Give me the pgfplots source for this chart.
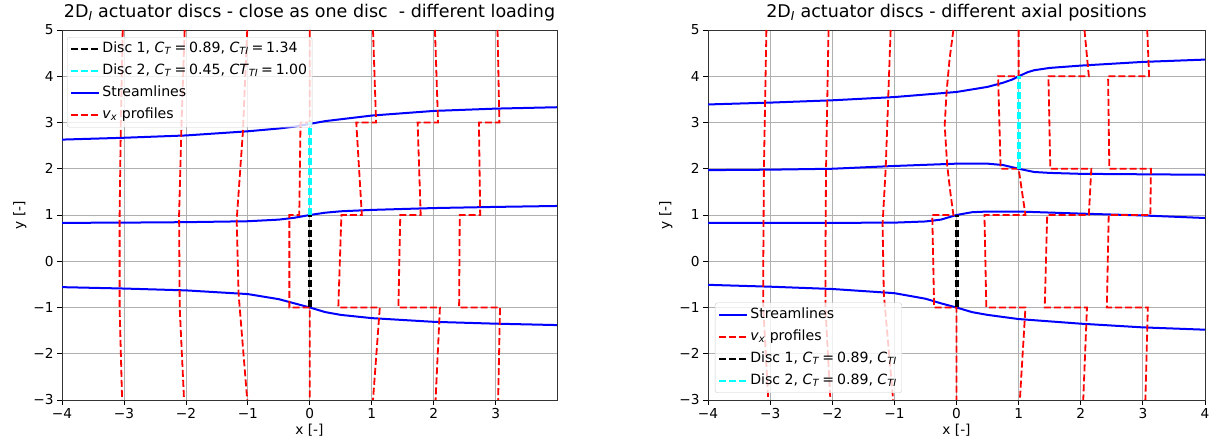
\documentclass[border=0pt]{standalone}
\usepackage{fontspec}
\setmainfont{DejaVu Sans}
\usepackage{pgfplots}
\pgfplotsset{compat=1.18}
\definecolor{mblue}{RGB}{0,0,255}
\definecolor{mred}{RGB}{255,0,0}
\definecolor{mcyan}{RGB}{0,255,255}
\definecolor{mgrid}{RGB}{176,176,176}
\newcommand{\ticksize}{\fontsize{13.7}{16}\selectfont}
\newcommand{\legsize}{\fontsize{14.1}{16.5}\selectfont}
\newcommand{\titlesize}{\fontsize{17.5}{20}\selectfont}
\newcommand{\eqs}{\hspace{0.2em}=\hspace{0.2em}}
\newcommand{\CT}{\textit{C}\textsubscript{\textit{T}}}
\newcommand{\CTI}{\textit{C}\textsubscript{\textit{TI}}}
\newcommand{\vx}{\textit{v}\textsubscript{\textit{x}}}
\pgfplotsset{
  stream/.style={mblue, line width=2pt, forget plot},
  prof/.style={mred, line width=1.8pt, dash pattern=on 7pt off 3pt, forget plot},
  disc1/.style={black, line width=4pt, dash pattern=on 7pt off 3pt, forget plot},
  disc2/.style={mcyan, line width=4pt, dash pattern=on 7pt off 3pt, forget plot},
  streamleg/.style={mblue, line width=2pt},
  profleg/.style={mred, line width=1.8pt, dash pattern=on 7pt off 3pt},
  disc1leg/.style={black, line width=2.2pt, dash pattern=on 7pt off 3pt},
  disc2leg/.style={mcyan, line width=2.2pt, dash pattern=on 7pt off 3pt},
  myaxis/.style={
    scale only axis, height=370pt, ymin=-3, ymax=5,
    grid=major, grid style={color=mgrid, line width=0.8pt},
    axis line style={black!80, line width=0.9pt},
    tick align=outside, major tick length=5pt,
    tick style={black, line width=0.8pt},
    xtick pos=left, ytick pos=left,
    ytick={-3,-2,-1,0,1,2,3,4,5},
    yticklabels={−3,−2,−1,0,1,2,3,4,5},
    tick label style={font=\ticksize},
    label style={font=\ticksize},
    xlabel={x [-]}, ylabel={y [-]},
    xlabel style={yshift=2pt},
    title style={font=\titlesize, yshift=-1pt},
    legend cell align=left,
    legend image code/.code={\draw[##1] (0pt,0pt) -- (28pt,0pt);},
    legend style={draw=black!20, rounded corners=2.5pt, fill=white, fill opacity=0.8, text opacity=1,
      font=\legsize, inner xsep=3pt, inner ysep=3pt, row sep=4pt,
      nodes={text height=10.5pt, text depth=3.5pt}},
  },
}
\begin{document}
\begin{tikzpicture}
\path[use as bounding box] (0pt,0pt) rectangle (1211pt,446pt);
% ---------------- left ----------------
\begin{axis}[myaxis, at={(62pt,46pt)}, anchor=south west, width=495pt,
  xmin=-4, xmax=3.99, xtick={-4,-3,-2,-1,0,1,2,3},
  xticklabels={−4,−3,−2,−1,0,1,2,3},
  title={2D\textsubscript{\textit{I}} actuator discs - close as one disc\ \ - different loading},
  legend style={at={(0.0101,0.981)}, anchor=north west}]
\addlegendimage{disc1leg}\addlegendentry{Disc 1, \CT\eqs0.89, \CTI\eqs1.34}
\addlegendimage{disc2leg}\addlegendentry{Disc 2, \CT\eqs0.45, \textit{CT}\textsubscript{\textit{TI}}\eqs1.00}
\addlegendimage{streamleg}\addlegendentry{Streamlines}
\addlegendimage{profleg}\addlegendentry{\vx{} profiles}
% streamlines
\addplot[stream] coordinates {(-4,2.63) (-3,2.67) (-2,2.72) (-1,2.81) (-0.5,2.87) (-0.25,2.91) (0,2.97) (0.25,3.03) (0.5,3.07) (1,3.15) (2,3.25) (3,3.30) (3.99,3.33)};
\addplot[stream] coordinates {(-4,0.83) (-3,0.835) (-2,0.845) (-1,0.865) (-0.5,0.9) (-0.25,0.94) (0,1.0) (0.25,1.05) (0.5,1.08) (1,1.11) (2,1.15) (3,1.175) (3.99,1.195)};
\addplot[stream] coordinates {(-4,-0.56) (-3,-0.59) (-2,-0.63) (-1,-0.71) (-0.5,-0.82) (-0.25,-0.91) (0,-1.0) (0.25,-1.1) (0.5,-1.16) (1,-1.23) (2,-1.31) (3,-1.35) (3.99,-1.38)};
% vx profiles
\addplot[prof] coordinates {(-3.02,5) (-3.05,3) (-3.07,1) (-3.07,-1) (-3.03,-3)};
\addplot[prof] coordinates {(-2.02,5) (-2.07,3) (-2.11,1) (-2.10,-1) (-2.03,-3)};
\addplot[prof] coordinates {(-1.01,5) (-1.08,2.8) (-1.18,0.9) (-1.15,-0.7) (-1.01,-3)};
\addplot[prof] coordinates {(0,5) (0,3) (-0.15,3) (-0.17,1) (-0.33,1) (-0.33,-1) (0,-1) (0,-3)};
\addplot[prof] coordinates {(1.02,5) (1.07,3) (0.75,3) (0.84,1) (0.51,1) (0.46,-1) (1.13,-1) (1.02,-3)};
\addplot[prof] coordinates {(2.02,5) (2.07,3) (1.74,3) (1.79,1) (1.46,1) (1.43,-1) (2.10,-1) (2.03,-3)};
\addplot[prof] coordinates {(3.03,5) (3.06,3) (2.73,3) (2.75,1) (2.42,1) (2.41,-1) (3.07,-1) (3.04,-3)};
% discs
\addplot[disc1] coordinates {(0,-1) (0,1)};
\addplot[disc2] coordinates {(0,1) (0,3)};
\end{axis}
% ---------------- right ----------------
\begin{axis}[myaxis, at={(708pt,46pt)}, anchor=south west, width=497pt,
  xmin=-4, xmax=4, xtick={-4,-3,-2,-1,0,1,2,3,4},
  xticklabels={−4,−3,−2,−1,0,1,2,3,4},
  title={2D\textsubscript{\textit{I}} actuator discs - different axial positions},
  legend style={at={(0.014,0.019)}, anchor=south west}]
\addlegendimage{streamleg}\addlegendentry{Streamlines}
\addlegendimage{profleg}\addlegendentry{\vx{} profiles}
\addlegendimage{disc1leg}\addlegendentry{Disc 1, \CT\eqs0.89, \CTI}
\addlegendimage{disc2leg}\addlegendentry{Disc 2, \CT\eqs0.89, \CTI}
% streamlines
\addplot[stream] coordinates {(-4,3.39) (-3,3.43) (-2,3.48) (-1,3.55) (0,3.66) (0.5,3.77) (0.75,3.86) (0.9,3.93) (1,4.0) (1.15,4.09) (1.25,4.13) (1.5,4.18) (2,4.23) (3,4.31) (4,4.36)};
\addplot[stream] coordinates {(-4,1.97) (-3,1.98) (-2,2.0) (-1,2.06) (0,2.11) (0.5,2.11) (0.75,2.08) (1,2.0) (1.25,1.93) (1.5,1.91) (2,1.89) (3,1.88) (4,1.87)};
\addplot[stream] coordinates {(-4,0.83) (-2,0.83) (-1,0.835) (-0.5,0.86) (-0.25,0.9) (0,1.0) (0.25,1.06) (0.5,1.075) (1,1.075) (2,1.03) (3,0.99) (4,0.935)};
\addplot[stream] coordinates {(-4,-0.51) (-3,-0.55) (-2,-0.60) (-1,-0.69) (-0.5,-0.81) (-0.25,-0.91) (0,-1.0) (0.25,-1.1) (0.5,-1.16) (1,-1.25) (2,-1.35) (3,-1.43) (4,-1.48)};
% vx profiles
\addplot[prof] coordinates {(-3.06,5) (-3.10,2) (-3.11,0) (-3.11,-1) (-3.03,-3)};
\addplot[prof] coordinates {(-2.06,5) (-2.10,2) (-2.11,0) (-2.11,-1) (-2.03,-3)};
\addplot[prof] coordinates {(-1.06,5) (-1.14,2) (-1.19,0.8) (-1.17,-0.7) (-1.02,-3)};
\addplot[prof] coordinates {(-0.05,5) (-0.11,4.39) (-0.16,3.66) (-0.19,2.94) (-0.15,2.08) (-0.10,1.5) (-0.05,1.0) (-0.39,1.0) (-0.36,-1) (0,-1) (0,-3)};
\addplot[prof] coordinates {(1.0,5) (1.0,4) (0.67,4) (0.71,2) (1.0,2) (1.11,1) (0.45,1) (0.48,-1) (1.11,-1) (1.02,-3)};
\addplot[prof] coordinates {(2.06,5) (2.13,4) (1.48,4) (1.51,2) (2.17,2) (2.13,1) (1.46,1) (1.42,-1) (2.10,-1) (2.04,-3)};
\addplot[prof] coordinates {(3.07,5) (3.10,4) (2.44,4) (2.46,2) (3.13,2) (3.12,1) (2.45,1) (2.42,-1) (3.08,-1) (3.04,-3)};
% discs
\addplot[disc1] coordinates {(0,-1) (0,1)};
\addplot[disc2] coordinates {(1,2) (1,4)};
\end{axis}
\end{tikzpicture}
\end{document}
